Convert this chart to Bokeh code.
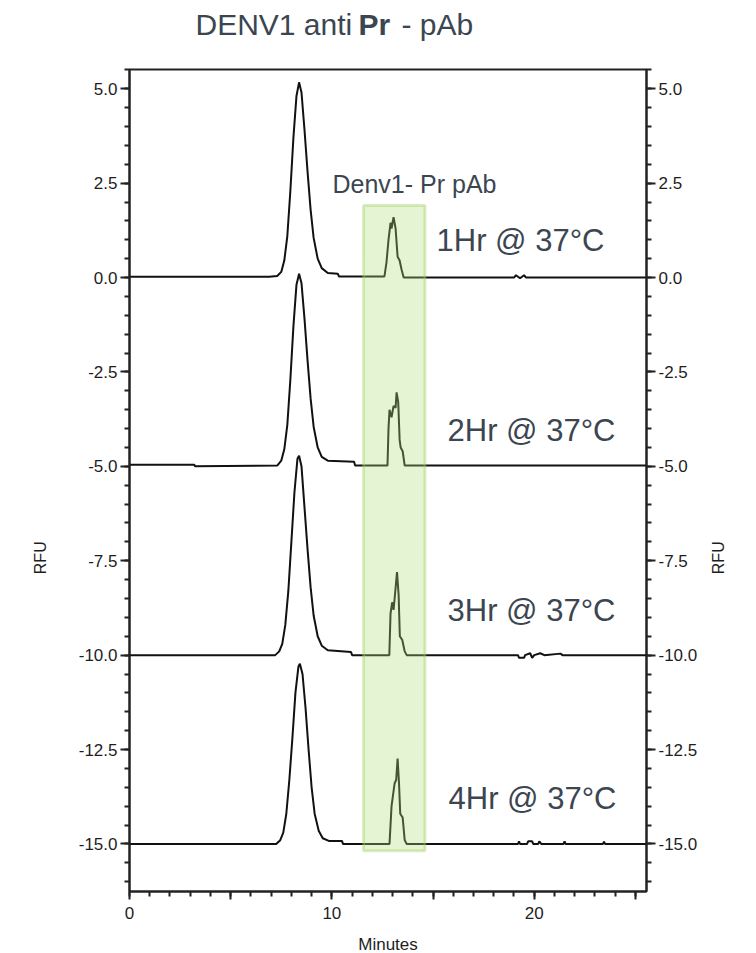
from math import pi
from bokeh.plotting import figure
from bokeh.layouts import column, row
from bokeh.models import Range1d, LinearAxis, FixedTicker, Label, CustomJSTickFormatter
from bokeh.core.properties import value
from bokeh.embed import file_html
from bokeh.resources import INLINE

# ---------------- data ----------------
t1_x = [0.0, 6.9, 7.3, 7.5, 7.65, 7.8, 7.95, 8.1, 8.25, 8.38, 8.5, 8.65, 8.8, 8.95, 9.1, 9.3, 9.5, 9.8,
        10.3, 10.35, 12.6, 12.7, 12.8, 12.9, 12.95, 13.05, 13.15, 13.25, 13.35, 13.45, 13.55,
        19.0, 19.1, 19.3, 19.5, 19.6, 25.55]
t1_y = [0.02, 0.02, 0.04, 0.15, 0.45, 1.1, 2.3, 3.7, 4.8, 5.17, 4.9, 3.9, 2.8, 1.8, 1.05, 0.5, 0.25, 0.12,
        0.1, 0.03, 0.03, 0.4, 1.0, 1.45, 1.3, 1.6, 1.3, 0.55, 0.45, 0.2, 0.0,
        0.0, 0.06, -0.02, 0.06, 0.0, 0.0]

t2_x = [0.0, 3.2, 3.25, 7.3, 7.5, 7.65, 7.8, 7.95, 8.1, 8.25, 8.38, 8.5, 8.65, 8.8, 8.95, 9.1, 9.3, 9.5, 9.8,
        11.1, 11.15, 12.75, 12.8, 12.85, 12.95, 13.05, 13.15, 13.2, 13.28, 13.35, 13.4, 13.5, 13.6, 25.55]
t2_y = [-4.96, -4.96, -5.0, -4.98, -4.85, -4.55, -3.9, -2.7, -1.3, -0.2, 0.1, -0.15, -1.1, -2.2, -3.2, -3.95, -4.5, -4.75, -4.85,
        -4.88, -4.98, -4.98, -4.0, -3.5, -3.7, -3.4, -3.45, -3.04, -3.3, -4.3, -4.5, -4.6, -4.98, -4.98]

t3_x = [0.0, 7.2, 7.4, 7.55, 7.7, 7.85, 8.0, 8.15, 8.3, 8.38, 8.5, 8.65, 8.8, 8.95, 9.1, 9.3, 9.5, 9.8,
        10.95, 11.0, 12.84, 12.9, 12.98, 13.05, 13.12, 13.22, 13.3, 13.36, 13.48, 13.6, 13.7,
        19.2, 19.25, 19.5, 19.55, 19.8, 19.9, 20.0, 20.3, 20.5, 21.3, 21.4, 25.55]
t3_y = [-10.0, -10.0, -9.9, -9.7, -9.2, -8.3, -7.0, -5.7, -4.8, -4.72, -5.0, -6.1, -7.2, -8.2, -8.95, -9.5, -9.75, -9.87,
        -9.92, -10.0, -10.0, -8.9, -8.6, -8.8, -8.4, -7.8, -8.4, -9.5, -9.6, -9.9, -10.0,
        -10.0, -10.07, -10.07, -10.0, -9.95, -10.07, -10.0, -9.95, -10.0, -9.96, -10.0, -10.0]

t4_x = [0.0, 7.25, 7.45, 7.6, 7.75, 7.9, 8.05, 8.2, 8.35, 8.42, 8.55, 8.7, 8.85, 9.0, 9.15, 9.35, 9.55, 9.85,
        10.5, 10.55, 12.85, 12.95, 13.05, 13.1, 13.18, 13.25, 13.32, 13.38, 13.5, 13.6, 13.7,
        19.2, 19.25, 19.3, 19.65, 19.7, 19.9, 19.95, 20.2, 20.25, 20.35, 21.45, 21.5, 21.55, 23.4, 23.45, 23.5, 25.55]
t4_y = [-15.0, -15.0, -14.9, -14.7, -14.2, -13.3, -12.2, -11.0, -10.3, -10.23, -10.5, -11.4, -12.5, -13.5, -14.2, -14.65, -14.85, -14.92,
        -14.92, -15.0, -15.0, -14.0, -13.6, -13.4, -13.3, -12.74, -13.4, -14.2, -14.3, -14.9, -15.0,
        -15.0, -14.93, -15.0, -15.0, -14.93, -14.93, -15.0, -15.0, -14.93, -15.0, -15.0, -14.93, -15.0, -15.0, -14.94, -15.0, -15.0]

traces = [(t1_x, t1_y), (t2_x, t2_y), (t3_x, t3_y), (t4_x, t4_y)]

trace_labels = ["1Hr @ 37°C", "2Hr @ 37°C", "3Hr @ 37°C", "4Hr @ 37°C"]
region_label = "Denv1- Pr pAb"
region_x = [11.57, 14.6]      # minutes
region_y = [-15.18, 1.91]     # RFU

x_ticks = [0, 5, 10, 15, 20, 25]
y_ticks = [-15.0, -12.5, -10.0, -7.5, -5.0, -2.5, 0.0, 2.5, 5.0]

title_parts = [("DENV1 anti", "normal"), ("Pr", "bold"), ("- pAb", "normal")]
x_title = "Minutes"
y_title = "RFU"

# ---------------- layout (page pixels) ----------------
W, H = 756, 953
TOP_H = 65                       # title strip
BOT_H = 26                       # strip holding "Minutes"
LEFT_W, RIGHT_W = 60, 50         # strips holding the rotated "RFU" titles
ML, MR, MT, MB = 129, 110, 69, 62   # frame position in the whole page
X0, X1 = 0.0, 25.55
Y0, Y1 = -16.26, 5.51
FW, FH = W - ML - MR, H - MT - MB
MAIN_W = W - LEFT_W - RIGHT_W
MAIN_H = H - TOP_H - BOT_H

def px(sx):
    return X0 + (sx - ML) / FW * (X1 - X0)

def py(sy):
    return Y1 - (sy - MT) / FH * (Y1 - Y0)

def blank_fig(w, h):
    f = figure(width=w, height=h, x_range=Range1d(0, w), y_range=Range1d(0, h),
               output_backend="svg", toolbar_location=None,
               min_border_left=0, min_border_right=0, min_border_top=0, min_border_bottom=0,
               x_axis_type=None, y_axis_type=None)
    f.xgrid.visible = False
    f.ygrid.visible = False
    f.outline_line_color = None
    return f

TXT = "#3b4650"
TICK_FONT = "Liberation Sans"
AX_COLOR = "#222222"
AX_TXT = "#1e1e1e"

# --- title strip ---
ft = blank_fig(W, TOP_H)
for (txt, style), sx in zip(title_parts, [195, 358, 401]):
    ft.text(x=[sx], y=[TOP_H - 24], text=[txt], text_font=value("Liberation Sans"),
            text_font_size="30px", text_font_style=style, text_color=TXT,
            text_baseline="middle")

# --- side strips with the RFU titles ---
RFU_Y = 555 + 22 - TOP_H          # page y of the title centre, corrected for rotated alignment
fl = blank_fig(LEFT_W, MAIN_H)
fl.text(x=[40], y=[MAIN_H - RFU_Y], text=[y_title], angle=pi / 2,
        text_font=value(TICK_FONT), text_font_size="16px", text_color=AX_TXT,
        text_align="center", text_baseline="middle")
fr = blank_fig(RIGHT_W, MAIN_H)
fr.text(x=[718 - (W - RIGHT_W)], y=[MAIN_H - RFU_Y], text=[y_title], angle=pi / 2,
        text_font=value(TICK_FONT), text_font_size="16px", text_color=AX_TXT,
        text_align="center", text_baseline="middle")

# --- bottom strip with the x title ---
fb = blank_fig(W, BOT_H)
fb.text(x=[(ML + W - MR) / 2], y=[BOT_H - (944 - (H - BOT_H))], text=[x_title],
        text_font=value(TICK_FONT), text_font_size="17px", text_color=AX_TXT,
        text_align="center", text_baseline="middle")

# --- main chart ---
p = figure(width=MAIN_W, height=MAIN_H, x_range=Range1d(X0, X1), y_range=Range1d(Y0, Y1),
           output_backend="svg", toolbar_location=None,
           min_border_left=ML - LEFT_W, min_border_right=MR - RIGHT_W,
           min_border_top=MT - TOP_H, min_border_bottom=MB - BOT_H)
p.xgrid.visible = False
p.ygrid.visible = False
p.outline_line_color = AX_COLOR
p.outline_line_width = 2
p.outline_line_alpha = 1.0

def style_axis(ax):
    ax.axis_line_color = AX_COLOR
    ax.axis_line_width = 2
    ax.major_tick_line_color = AX_COLOR
    ax.major_tick_line_width = 2
    ax.minor_tick_line_color = AX_COLOR
    ax.minor_tick_line_width = 2
    ax.major_tick_in = 0
    ax.minor_tick_in = 0
    ax.major_label_text_font = TICK_FONT
    ax.major_label_text_font_size = "17px"
    ax.major_label_text_color = AX_TXT

xa = p.xaxis[0]
xa.ticker = FixedTicker(ticks=x_ticks, minor_ticks=list(range(0, 26)))
xa.formatter = CustomJSTickFormatter(code="return (tick % 10 == 0) ? tick.toFixed(0) : '';")
style_axis(xa)
xa.major_tick_out = 8
xa.minor_tick_out = 5
xa.major_label_standoff = 7

yfmt = "return tick.toFixed(1);"
y_minor = [-16.0 + 0.5 * i for i in range(44)]
ya = p.yaxis[0]
ya.ticker = FixedTicker(ticks=y_ticks, minor_ticks=y_minor)
ya.formatter = CustomJSTickFormatter(code=yfmt)
style_axis(ya)
ya.major_tick_out = 9
ya.minor_tick_out = 5
ya.major_label_standoff = 3

yr = LinearAxis(ticker=FixedTicker(ticks=y_ticks, minor_ticks=y_minor),
                formatter=CustomJSTickFormatter(code=yfmt))
style_axis(yr)
yr.major_tick_out = 9
yr.minor_tick_out = 5
yr.major_label_standoff = 3
p.add_layout(yr, "right")

# traces
for tx, ty in traces:
    p.line(tx, ty, line_color="#111111", line_width=2)

# highlighted region (semi-transparent overlay, drawn on top of the traces)
p.quad(left=[region_x[0]], right=[region_x[1]], bottom=[region_y[0]], top=[region_y[1]],
       fill_color="#b0e079", fill_alpha=0.33, line_color="#9fcf5f", line_alpha=0.4, line_width=3)

p.add_layout(Label(x=px(332), y=py(183), text=region_label, text_font="Liberation Sans",
                   text_font_size="25px", text_color=TXT, text_baseline="middle"))

label_pos = [(436, 240), (447, 430), (447, 610), (448, 798)]
for txt, (sx, sy) in zip(trace_labels, label_pos):
    p.add_layout(Label(x=px(sx), y=py(sy), text=txt, text_font="Liberation Sans",
                       text_font_size="31px", text_color=TXT, text_baseline="middle"))

page = column(ft, row(fl, p, fr, spacing=0), fb, spacing=0)
open("out.html", "w").write(file_html(page, INLINE))
